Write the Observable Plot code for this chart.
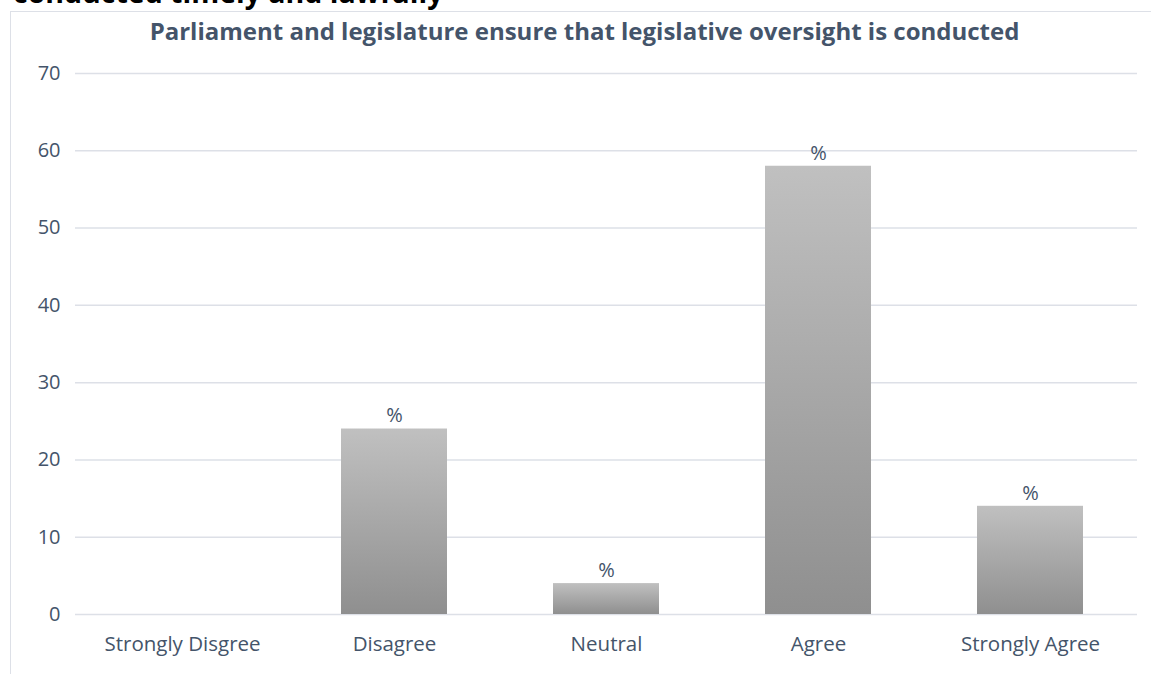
<!DOCTYPE html>
<html>
<head>
<meta charset="utf-8">
<script src="https://cdn.jsdelivr.net/npm/d3@7"></script>
<script src="https://cdn.jsdelivr.net/npm/@observablehq/plot@0.6"></script>
<style>
  html, body { margin: 0; padding: 0; background: #fff; overflow: hidden; }
  #wrap { position: relative; width: 1151px; height: 674px; overflow: hidden; font-family: "Open Sans", Lato, sans-serif; }
  #frame { position: absolute; left: 10px; top: 11px; width: 1200px; height: 700px; border-left: 1.5px solid #dde0e7; border-top: 1.5px solid #dde0e7; box-sizing: border-box; }
  #clipped { position: absolute; left: 13px; top: -28px; font-size: 28.5px; line-height: 40px; font-weight: bold; color: #000; white-space: nowrap; }
  #title { position: absolute; left: 9px; width: 1151px; top: 15px; text-align: center; font-size: 24px; line-height: 32px; font-weight: bold; color: #44546a; white-space: nowrap; }
  #chart { position: absolute; left: 0; top: 0; }
</style>
</head>
<body>
<div id="wrap">
  <div id="frame"></div>
  <div id="clipped"></div>
  <div id="chart"></div>
  <div id="title"></div>
</div>
<script>
const categories = ["Strongly Disgree", "Disagree", "Neutral", "Agree", "Strongly Agree"];
const values = [0, 24, 4, 58, 14];
const barLabels = ["", "%", "%", "%", "%"];
const yTicks = [0, 10, 20, 30, 40, 50, 60, 70];
const titleText = "Parliament and legislature ensure that legislative oversight is conducted";
const clippedText = "conducted timely and lawfully";

document.getElementById("title").textContent = titleText;
document.getElementById("clipped").textContent = clippedText;

const data = categories.map((c, i) => ({cat: c, value: values[i], label: barLabels[i]}));

const plot = Plot.plot({
  width: 1151,
  height: 674,
  marginLeft: 75,
  marginRight: 14,
  marginTop: 73,
  marginBottom: 60,
  style: { fontFamily: "'Open Sans', Lato, sans-serif", fontSize: "20px", color: "#44546a", background: "transparent" },
  x: { domain: categories, paddingInner: 0.5, paddingOuter: 0.25, label: null },
  y: { domain: [0, 70], ticks: yTicks, label: null },
  marks: [
    Plot.ruleY(yTicks, { stroke: "#dde0e7", strokeWidth: 1.5 }),
    Plot.barY(data, { x: "cat", y: "value", fill: "url(#barGrad)" }),
    Plot.text(data, { x: "cat", y: "value", text: "label", dy: -13, fill: "#44546a", fontSize: 20 }),
    Plot.axisY({ ticks: yTicks, tickSize: 0, tickPadding: 15, fill: "#44546a", fontSize: 20 }),
    Plot.axisX({ tickSize: 0, tickPadding: 22, fill: "#44546a", fontSize: 20.5 })
  ]
});

const svg = d3.select(plot);
const defs = svg.insert("defs", ":first-child");
const grad = defs.append("linearGradient").attr("id", "barGrad").attr("x1", 0).attr("y1", 0).attr("x2", 0).attr("y2", 1);
grad.append("stop").attr("offset", "0%").attr("stop-color", "#c0c0c0");
grad.append("stop").attr("offset", "100%").attr("stop-color", "#8f8f8f");

document.getElementById("chart").appendChild(plot);
</script>
</body>
</html>
